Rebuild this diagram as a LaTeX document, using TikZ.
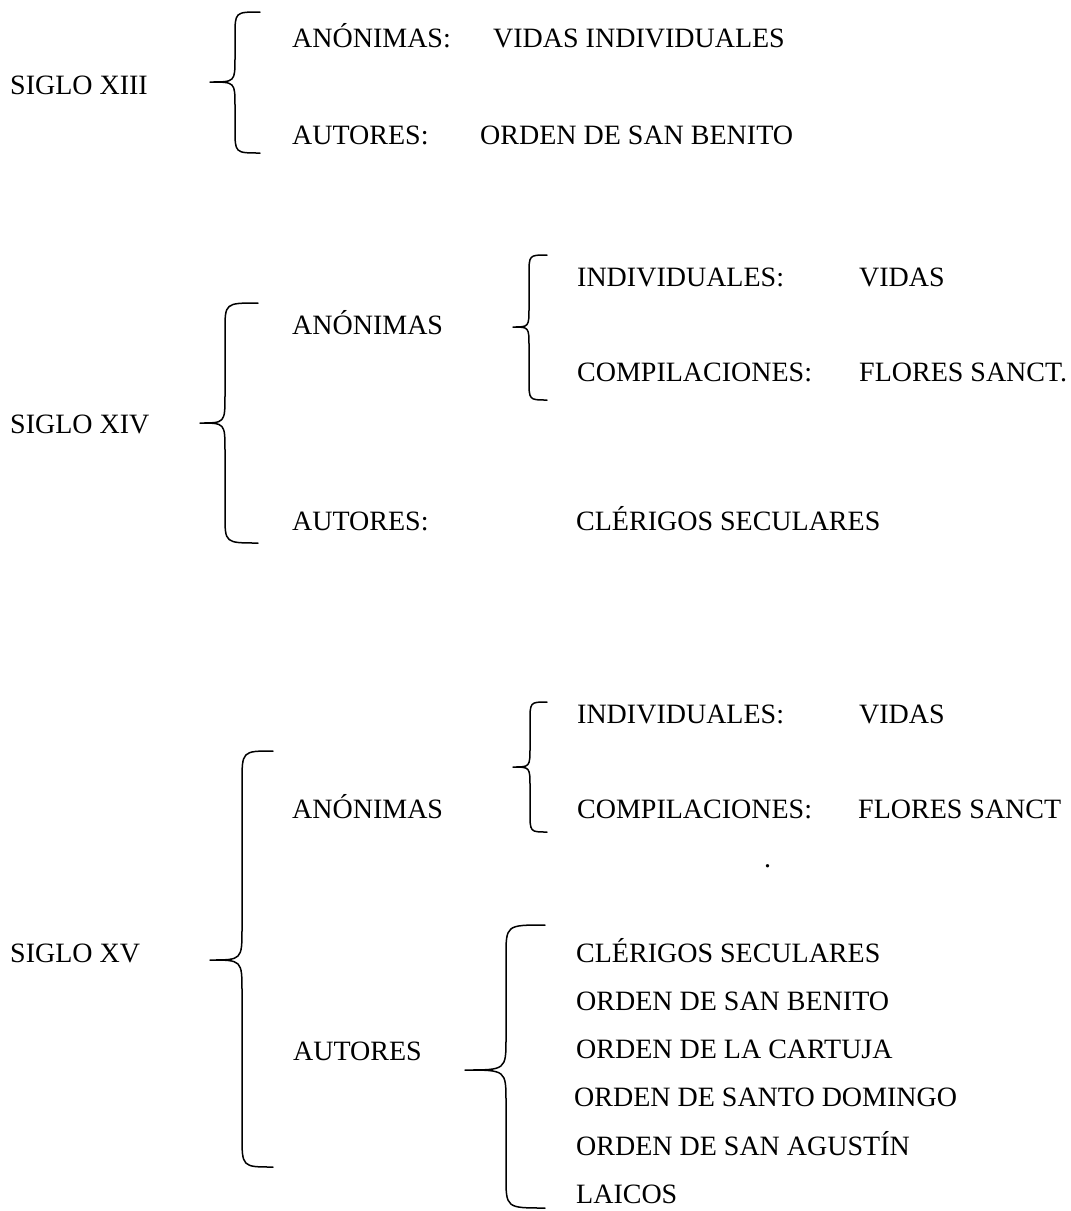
\documentclass[tikz,border=0pt]{standalone}
\usepackage{fontspec}
\setmainfont{Liberation Serif}
\newcommand{\curlybr}[7]{% xe xs xt yt ym yb r
  \draw[bracel] (#1,#4) .. controls (#2,#4) .. (#2,#4+#7) -- (#2,#5-#7)
    .. controls (#2,#5) .. (#3,#5) .. controls (#2,#5) .. (#2,#5+#7)
    -- (#2,#6-#7) .. controls (#2,#6) .. (#1,#6);}
\begin{document}
\begin{tikzpicture}[x=1pt,y=-1pt,
  lbl/.style={anchor=base west,inner sep=0pt,font=\fontsize{28}{32}\selectfont},
  bracel/.style={line width=1.5pt,line cap=round,line join=round}]
\useasboundingbox (0,0) rectangle (1071,1211);
% Section XIII
\node[lbl] (s13) at (10,94) {SIGLO XIII};
\node[lbl] (a13) at (292,47) {ANÓNIMAS:};
\node[lbl] (v13) at (493,47) {VIDAS INDIVIDUALES};
\node[lbl] (au13) at (292,144) {AUTORES:};
\node[lbl] (o13) at (480,144) {ORDEN DE SAN BENITO};
\curlybr{260}{235}{210}{12}{82}{153}{24}
% Section XIV
\node[lbl] (s14) at (10,433) {SIGLO XIV};
\node[lbl] (an14) at (292,334) {ANÓNIMAS};
\node[lbl] (in14) at (577,286) {INDIVIDUALES:};
\node[lbl] (vi14) at (859,286) {VIDAS};
\node[lbl] (co14) at (577,381) {COMPILACIONES:};
\node[lbl] (fl14) at (859,381) {FLORES SANCT.};
\node[lbl] (au14) at (292,530) {AUTORES:};
\node[lbl] (cl14) at (576,530) {CLÉRIGOS SECULARES};
\curlybr{258}{225}{200}{303}{423}{543}{28}
\curlybr{547}{529}{513}{255}{327}{400}{20}
% Section XV
\node[lbl] (in15) at (577,723) {INDIVIDUALES:};
\node[lbl] (vi15) at (859,723) {VIDAS};
\node[lbl] (an15) at (292,818) {ANÓNIMAS};
\node[lbl] (co15) at (577,818) {COMPILACIONES:};
\node[lbl] (fl15) at (858,818) {FLORES SANCT};
\node[lbl] (dot15) at (764,867) {.};
\node[lbl] (s15) at (10,962) {SIGLO XV};
\node[lbl] (au15) at (293,1060) {AUTORES};
\node[lbl] (l1) at (576,962) {CLÉRIGOS SECULARES};
\node[lbl] (l2) at (576,1010) {ORDEN DE SAN BENITO};
\node[lbl] (l3) at (576,1058) {ORDEN DE LA CARTUJA};
\node[lbl] (l4) at (574,1106) {ORDEN DE SANTO DOMINGO};
\node[lbl] (l5) at (576,1155) {ORDEN DE SAN AGUSTÍN};
\node[lbl] (l6) at (576,1203) {LAICOS};
\curlybr{547}{530}{513}{702}{767}{832}{20}
\curlybr{273}{242}{210}{751}{960}{1167}{32}
\curlybr{545}{506}{465}{925}{1070}{1208}{32}
\end{tikzpicture}
\end{document}
